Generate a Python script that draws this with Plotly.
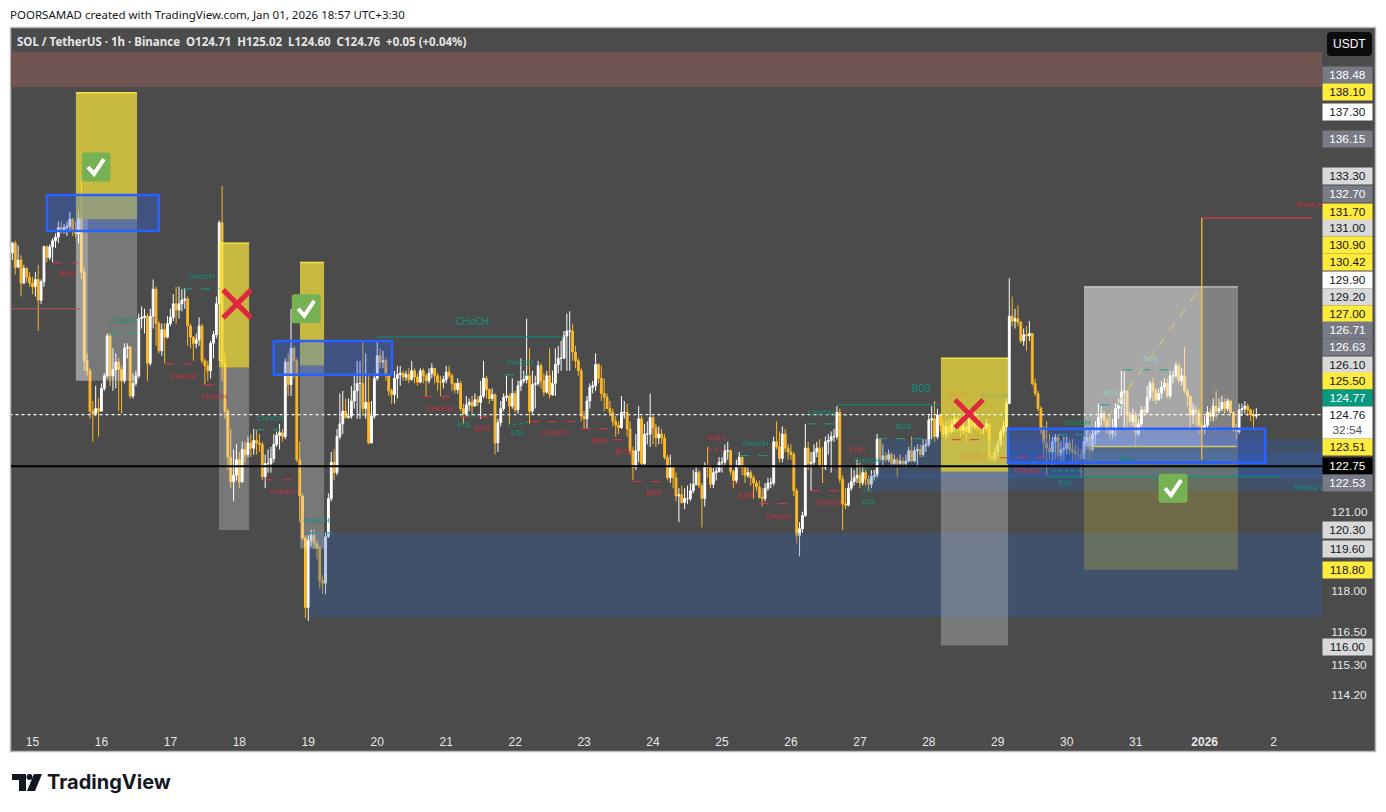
import math
import plotly.graph_objects as go

# hourly candles, one row per day (x = hours after Dec 15 00:00)
first_open = 131.3
closes = [
    131.7,130.7,131.0,130.05,130.65,130.3,130.05,
    129.9,130.2,129.35,130.1,131.55,131.1,131.55,131.8,131.95,132.35,132.2,132.35,132.4,132.7,132.2,132.1,132.75,130.5,126.9,126.5,124.9,124.8,125.0,124.9,
    125.8,126.3,127.9,126.3,126.55,126.85,126.55,126.1,127.4,127.45,125.5,126.0,126.3,128.6,128.65,128.7,126.8,128.7,129.8,128.4,127.3,128.15,127.85,128.4,
    128.65,129.2,128.95,129.2,129.35,129.4,128.3,127.85,127.6,127.75,128.3,126.9,126.7,126.5,127.6,127.95,129.2,132.55,126.8,124.9,123.1,122.15,122.4,123.0,
    122.15,123.4,123.2,123.65,123.45,123.75,123.65,123.6,122.35,122.85,122.85,123.05,123.6,123.95,124.05,123.9,126.85,125.95,127.4,126.9,123.0,121.6,120.0,117.4,
    119.9,120.1,119.8,119.6,118.4,118.3,120.05,121.5,122.9,122.5,123.9,124.4,124.9,124.65,124.7,125.3,125.7,126.0,126.0,125.0,125.25,123.65,124.7,126.2,
    127.1,126.85,126.9,126.3,125.7,125.55,126.2,126.35,126.4,126.25,126.35,126.15,126.5,126.25,126.05,126.5,126.3,126.1,126.4,126.6,126.3,126.05,126.05,126.15,
    126.45,126.3,126.0,125.75,126.0,125.0,124.8,125.15,125.25,125.1,125.35,125.25,125.5,126.2,125.75,125.4,125.55,123.65,124.45,125.0,125.45,125.5,125.1,125.6,
    124.95,125.9,126.1,126.15,126.3,124.9,125.95,126.0,126.7,126.1,125.65,126.3,125.55,126.0,126.75,127.0,127.0,127.9,128.1,128.1,127.25,126.9,126.5,124.7,
    124.6,125.3,125.85,125.9,126.75,126.2,125.6,125.45,125.0,124.85,124.5,124.35,124.25,124.85,124.85,124.2,123.35,122.7,123.35,124.6,122.85,124.0,124.0,124.65,
    124.25,123.85,124.0,123.85,123.1,122.3,122.7,122.3,121.6,121.65,121.35,121.5,121.5,121.8,122.05,122.5,122.0,121.5,122.75,122.7,122.05,122.5,122.55,122.9,
    122.9,123.35,123.35,122.55,122.2,122.75,123.1,122.7,122.4,122.5,122.3,122.1,121.95,121.55,121.5,121.9,122.1,122.1,123.7,123.5,123.05,124.0,123.45,123.3,
    123.2,121.8,120.1,120.35,120.85,123.45,122.85,122.9,123.3,123.45,122.75,122.7,123.7,123.75,123.9,123.9,124.85,122.25,121.3,121.25,121.9,122.15,122.3,122.4,
    122.1,122.5,122.25,122.05,122.35,122.4,123.8,123.0,123.15,123.0,123.2,122.85,123.0,122.85,122.95,122.85,122.95,123.35,122.95,123.35,123.4,123.2,123.55,123.6,
    124.55,124.6,123.9,124.75,124.35,124.0,124.3,124.1,124.4,124.6,124.35,124.15,124.3,124.1,124.6,124.3,124.6,124.25,124.2,124.25,124.4,123.1,123.05,123.3,
    123.6,124.1,124.3,125.2,128.7,128.5,128.6,128.45,127.7,127.95,127.9,128.0,126.0,125.6,125.0,124.15,123.65,123.45,123.3,123.7,123.85,123.15,123.4,123.45,
    123.65,123.4,123.3,123.2,123.2,123.05,123.7,123.85,123.4,124.0,124.1,124.65,124.8,124.55,124.15,124.0,124.2,125.0,125.15,125.65,125.7,124.8,124.5,124.75,
    124.0,124.4,124.95,124.85,125.45,126.0,125.7,125.35,125.6,125.85,126.0,125.5,126.3,126.3,126.7,126.1,126.3,125.7,125.5,124.75,124.95,124.85,124.35,124.15,
    124.35,124.85,124.7,125.1,124.9,125.0,125.25,125.0,125.3,124.85,124.15,124.1,124.95,125.0,125.1,124.95,124.75,124.71,124.76,
]
highs = [
    131.75,131.8,131.6,131.2,130.8,130.7,130.5,
    130.3,130.5,130.8,130.2,131.6,131.6,131.65,131.9,132.1,132.6,132.6,132.5,132.6,133.0,132.75,132.6,133.1,135.45,130.7,127.2,126.6,125.3,125.9,125.4,
    126.0,126.4,128.0,128.0,127.4,127.2,127.0,126.7,127.6,127.6,127.5,126.4,126.5,128.8,129.1,129.0,128.8,129.0,130.2,129.9,128.5,128.4,128.4,128.7,
    129.0,129.6,129.9,129.9,129.8,129.85,129.5,128.4,127.9,128.0,128.65,128.4,127.0,126.9,127.7,128.1,129.5,132.65,134.1,127.2,125.0,124.2,123.4,123.6,
    123.3,123.7,123.7,123.9,124.0,124.2,124.15,124.0,123.7,123.2,123.4,123.5,124.0,124.1,124.4,124.2,127.0,127.2,129.0,127.5,127.0,123.7,121.7,120.1,
    120.1,120.3,120.3,119.9,119.7,118.6,120.2,121.7,123.3,123.4,124.2,125.6,125.7,125.4,125.4,125.9,126.4,126.9,126.9,127.7,127.2,126.4,125.3,126.4,
    127.65,127.4,127.3,127.0,126.3,125.8,126.5,126.7,126.7,126.5,126.5,126.6,126.9,126.6,126.4,126.6,126.6,126.4,126.6,126.8,126.6,126.4,126.3,126.3,
    126.7,126.7,126.4,126.0,126.2,126.1,125.2,125.5,125.4,125.5,125.6,125.5,126.1,126.9,126.3,125.8,125.8,125.6,124.6,125.3,125.6,126.3,125.6,126.2,
    125.7,126.1,127.0,126.5,128.6,127.4,126.5,126.3,126.9,126.8,126.4,126.5,127.4,126.5,127.4,127.5,127.7,128.1,128.8,128.9,128.4,127.5,127.0,126.6,
    124.9,125.5,126.0,126.1,127.2,126.8,126.7,126.2,125.6,125.3,125.0,124.7,124.5,125.5,125.3,125.2,124.5,123.5,124.0,125.1,124.7,124.4,124.5,125.6,
    124.7,124.4,124.3,124.2,124.0,123.2,123.2,122.8,122.5,121.9,122.0,121.9,122.0,122.1,122.6,122.7,122.6,122.1,122.9,123.5,122.8,122.7,122.8,123.1,
    123.1,123.6,123.7,123.4,122.6,123.0,123.3,123.0,122.8,122.7,122.6,122.4,122.2,122.2,121.9,122.1,122.3,122.3,123.9,124.5,124.1,124.3,124.2,123.6,
    123.6,123.3,121.9,120.6,121.0,124.4,123.7,123.3,123.6,123.7,123.8,123.5,123.9,124.0,124.1,124.2,125.1,125.0,122.4,121.9,122.1,122.7,122.6,123.0,
    122.9,122.8,122.6,122.4,122.6,122.6,124.0,123.85,123.6,123.3,123.4,123.3,123.2,123.1,123.2,123.1,123.2,123.5,123.9,123.5,123.6,123.6,123.8,123.8,
    124.8,125.1,125.3,125.0,124.8,124.5,124.5,124.6,124.6,124.8,124.7,124.4,124.8,124.4,125.0,124.7,124.9,124.7,124.4,124.4,124.6,124.3,123.3,123.5,
    123.8,124.2,124.5,125.4,130.25,129.5,129.0,129.15,128.5,128.2,128.3,128.5,128.0,126.2,125.7,125.1,124.3,124.5,124.0,123.9,124.0,124.0,123.7,123.9,
    123.9,123.8,123.8,123.6,123.5,123.4,123.9,124.2,124.0,124.2,124.5,125.2,125.1,124.9,124.6,124.7,124.6,125.2,125.4,126.5,126.5,125.7,124.9,125.0,
    124.9,124.6,125.1,125.1,125.9,126.1,126.2,125.8,125.8,126.1,126.2,126.2,126.5,126.5,126.85,126.8,126.6,127.45,125.8,125.5,125.2,125.1,125.0,124.5,
    124.7,125.1,125.0,125.4,125.7,125.4,125.5,125.4,125.4,125.35,124.9,124.4,125.2,125.2,125.3,125.2,125.0,124.95,125.02,
]
lows = [
    131.0,130.4,130.7,129.5,130.0,130.1,129.9,
    129.6,129.5,128.1,129.2,129.9,130.9,131.0,130.9,131.5,131.7,132.1,132.1,132.0,132.2,132.0,131.95,131.7,130.2,126.5,126.3,124.6,123.7,124.7,123.9,
    124.9,125.7,126.2,125.9,125.7,125.8,124.9,124.8,126.0,127.0,125.4,125.4,125.9,126.2,128.2,128.0,126.1,126.7,128.2,127.5,127.2,127.1,126.8,127.8,
    128.3,128.5,128.4,128.6,128.9,129.0,127.5,127.4,126.9,127.4,127.5,126.8,125.95,126.1,126.2,127.0,127.8,126.9,126.1,124.6,122.6,121.9,121.4,122.2,
    121.9,122.1,122.9,123.1,123.1,123.2,123.2,123.3,122.2,121.9,122.5,122.5,122.9,123.5,123.4,123.7,123.8,125.5,125.5,126.2,122.9,120.6,119.9,117.0,
    116.9,119.7,119.6,119.2,118.1,117.9,117.9,120.0,121.4,122.2,122.4,123.8,124.0,124.6,124.6,124.6,125.0,124.6,124.6,124.7,124.6,123.6,123.7,124.6,
    126.1,126.6,126.6,126.1,125.5,125.2,125.2,125.4,125.9,126.1,126.1,126.0,126.1,126.0,125.9,126.0,126.0,125.5,126.0,126.2,126.0,125.7,125.5,125.8,
    126.0,126.2,125.7,125.6,125.6,124.9,124.4,124.7,124.9,124.8,125.1,125.1,124.6,125.4,125.4,125.2,125.3,123.2,123.3,124.3,124.9,125.3,124.4,125.0,
    124.85,124.8,125.7,126.0,126.0,124.4,124.8,125.0,125.9,125.8,125.5,125.6,125.4,125.5,125.5,126.4,126.5,127.0,126.5,126.5,126.9,126.6,126.3,124.5,
    124.2,124.2,125.0,125.6,125.7,126.0,125.3,124.9,125.0,124.7,124.3,123.9,124.0,124.2,124.6,123.9,123.2,122.2,122.6,122.9,122.8,122.8,123.6,123.5,
    123.6,123.5,123.6,123.6,123.0,122.2,122.1,121.9,121.4,120.6,121.3,121.1,121.3,121.4,121.7,122.0,121.9,120.4,121.2,122.3,121.9,121.9,122.2,122.5,
    122.5,122.8,123.0,122.4,121.9,122.1,122.7,122.4,122.1,122.3,122.0,121.5,121.8,121.5,121.2,121.4,121.8,121.9,122.0,123.4,122.9,122.9,123.3,123.0,
    123.0,121.6,119.8,119.3,120.2,120.8,122.6,121.8,122.8,123.1,122.7,122.1,122.6,123.2,122.5,123.7,123.8,122.1,120.3,121.1,121.2,121.8,122.0,122.1,
    121.9,122.0,122.0,121.8,121.9,122.2,122.3,122.9,122.8,122.9,122.9,122.7,122.8,122.3,122.8,122.7,122.7,122.9,122.9,122.9,122.7,123.1,123.1,123.3,
    123.5,123.8,123.7,123.8,124.1,123.9,123.8,123.9,124.0,124.1,124.1,123.9,124.0,123.6,124.0,124.0,124.2,124.1,124.0,124.0,124.1,123.0,122.9,122.9,
    123.1,123.5,123.9,124.1,125.2,128.3,128.2,128.3,127.6,127.5,127.3,127.7,125.9,125.5,124.9,124.0,123.1,122.4,123.0,122.8,123.0,123.0,122.9,122.9,
    123.2,123.2,122.9,122.9,122.9,122.3,123.0,123.4,123.0,123.3,123.6,124.0,124.3,124.3,124.0,123.8,123.8,123.9,124.6,124.8,124.2,124.2,124.3,124.3,
    123.5,123.9,124.3,124.7,124.8,125.3,125.3,125.2,125.3,125.4,125.7,125.4,125.4,126.0,126.2,126.0,125.9,125.6,125.1,124.2,124.4,124.3,124.0,123.9,
    124.0,124.2,124.5,124.5,124.6,124.8,124.9,124.8,124.9,124.8,124.1,123.8,124.0,124.7,124.8,124.7,124.5,124.2,124.60,
]

day_hours = [0,24,48,72,96,120,144,168,192,216,240,264,288,312,336,360,384,408,432]
day_labels = ["15","16","17","18","19","20","21","22","23","24","25","26","27","28","29","30","31","<b>2026</b>","2"]
axis_prices = [121,118,116.5,115.3,114.2]

# drawings: hour from, hour to, price low, price high
target_boxes = [(15.1,36.4,132.7,138.1),(64.9,75.4,126.63,131.7),(93.1,101.5,126.71,130.9),(316.2,339.6,122.53,127.0)]
risk_boxes = [(15.1,36.4,126.1,132.7),(15.1,19.3,126.1,132.7),(64.9,75.4,120.3,126.63),(93.1,101.5,119.6,126.71),(316.2,339.6,116.0,122.53)]
zone_boxes = [(5.05,44,132.2,133.72),(84,125.1,126.34,127.7),(339.6,429.1,122.88,124.21)]
demand_bands = [(96.2,449,117.05,120.2),(294.3,449,122.3,123.8),(290.1,449,121.8,122.45),(339.6,449,122.3,123.27)]
supply_band = (-8,449,138.35,139.9)
long_reward = [(366,419.6,123.51,129.9),(366,407.3,123.51,129.9)]
long_risk = (366,419.6,118.8,123.51)

red_dashes = [(7.1,15.8,130.88),(46.1,59.3,126.78),(60,65.6,125.94),(80.9,92.8,122.22),(135.9,147.8,125.47),(149.1,158.5,124.68),
              (173.2,192.3,124.49),(190.9,203.8,124.21),(202,207.9,123.78),(209,221.9,122.15),(243.1,249.7,122.07),(253.2,265.4,121.31),
              (271,281,121.8),(336.8,354.8,123.08),(320,331.5,123.78)]
teal_dashes = [(52.4,65.3,129.81),(27,36.4,128.03),(77.4,86.2,124.17),(95.9,104.2,120.2),(164.5,173.2,126.34),(246.3,257.8,123.16),
               (269.6,280,124.4),(294.3,314.1,123.82),(288,292.5,122.65),(356.9,366.3,123.97),(371.6,379.2,125.15),(379.6,396.6,126.54)]
teal_dots = [(149.1,155,124.72,124.72),(165.2,173.2,124.32,124.49),(289,292.2,121.8,121.8),(355.2,365.3,122.57,122.57)]
teal_lines = [(119.6,185,127.86),(280,315.8,125.15),(353.1,434.2,122.34)]

red_labels = [("BOS",12,130.43),("CHoCH",52.7,126.26),("CHoCH",63.5,125.47),("CHoCH",87.2,121.77),("CHoCH",141.8,124.99),("BOS",156.2,124.2),
              ("CHoCH",181.9,124.05),("BOS",197.2,123.74),("BOS",205.2,123.31),("BOS",216,121.73),("EQH",237.9,123.86),("BOS",248.3,121.61),
              ("CHoCH",259.8,120.81),("CHoCH",276.9,121.34),("EQH",287,123.38),("CHoCH",346.2,122.57),("Weak H",444.5,133.3)]
teal_labels = [("CHoCH",59,130.31),("CHoCH",31.8,128.51),("CHoCH",83,124.6),("CHoCH",98.7,120.66),("EQL",150.6,124.37),("CHoCH",170,126.82),
               ("EQL",169.3,124.05),("CHoCH",251.8,123.62),("CHoCH",274.8,124.84),("BOS",303.3,124.29),("CHoCH",290.8,122.98),("EQL",291.2,121.38),
               ("CHoCH",363.9,124.44),("EQL",360,122.11),("EQL",381.3,123.04),("Strong L",444.3,121.92)]
pale_labels = [("BOS",375.4,125.63),("BOS",389.3,127.0)]
large_labels = [("CHoCH",153,128.47),("BOS",309.3,125.79)]
orange_labels = [("EQH",322.1,125.55),("CHoCH",327.4,123.12)]
olive_labels = [("CHoCH",335,125.5)]

check_marks = [(22.1,134.9),(95.3,129.0),(397,121.9)]
cross_marks = [(71.2,129.2),(326,124.8)]

tag_texts = ["138.48","138.10","137.30","136.15","133.30","132.70","131.70","131.00","130.90","130.42","129.90","129.20","127.00",
             "126.71","126.63","126.10","125.50","124.77","123.51","122.75","122.53","120.30","119.60","118.80","116.00"]
tag_kinds = ["g","y","w","g","l","g","y","l","y","y","w","l","y","g","g","l","y","t","y","k","g","l","l","y","l"]
tag_rows = [75,92,112,139,176,194,212,228,245,262,280,297,314,330,347,365,381,398,447,466,483,530,549,570,647]

BG = "#4b4b4b"
UP = "#ffffff"
DOWN = "#fbb829"
RED = "#c22f41"
TEAL = "#0d8f7a"
WIDTH, HEIGHT = 1386, 812
LEFT, RIGHT, TOP, BOTTOM = 11, 1322, 28, 751


def paper_x(px):
    return (px - LEFT) / (RIGHT - LEFT)


def paper_y(py):
    return 1 - (py - TOP) / (BOTTOM - TOP)


def rect(box, fill, line=None, width=0):
    return dict(type="rect", x0=box[0], x1=box[1], y0=box[2], y1=box[3], xref="x", yref="y",
                fillcolor=fill, line=dict(color=line or "rgba(0,0,0,0)", width=width), layer="above")


def seg(x0, x1, y0, y1, color, width=1, dash="solid"):
    return dict(type="line", x0=x0, x1=x1, y0=y0, y1=y1, xref="x", yref="y",
                line=dict(color=color, width=width, dash=dash), layer="above")


def round_path(x0, y0, x1, y1, r):
    # pixel offsets, y counts upward from the anchor
    return (f"M {x0+r} {y0} L {x1-r} {y0} Q {x1} {y0} {x1} {y0+r} L {x1} {y1-r} Q {x1} {y1} {x1-r} {y1} "
            f"L {x0+r} {y1} Q {x0} {y1} {x0} {y1-r} L {x0} {y0+r} Q {x0} {y0} {x0+r} {y0} Z")


def icon(hour, price, path, fill=None, color=None, width=0):
    return dict(type="path", xref="x", yref="y", xsizemode="pixel", ysizemode="pixel",
                xanchor=hour, yanchor=price, path=path, fillcolor=fill or "rgba(0,0,0,0)",
                line=dict(color=color or "rgba(0,0,0,0)", width=width), layer="above")


def frame_path(path, fill):
    # pixel offsets from the top left corner of the plot area
    return dict(type="path", xref="paper", yref="paper", xsizemode="pixel", ysizemode="pixel",
                xanchor=0, yanchor=1, path=path, fillcolor=fill, line=dict(width=0), layer="above")


hours = [i - 7 for i in range(len(closes))]
opens = [first_open] + closes[:-1]

fig = go.Figure(go.Candlestick(
    x=hours, open=opens, high=highs, low=lows, close=closes,
    increasing=dict(line=dict(color=UP, width=1), fillcolor=UP),
    decreasing=dict(line=dict(color=DOWN, width=1), fillcolor=DOWN),
    whiskerwidth=0, showlegend=False,
))

shapes = []
# price scale background and chart frame
shapes.append(dict(type="rect", xref="paper", yref="paper", x0=1, x1=paper_x(1375), y0=0, y1=1,
                   fillcolor=BG, line=dict(width=0), layer="below"))
shapes.append(dict(type="rect", xref="paper", yref="paper", x0=paper_x(10.5), x1=paper_x(1375.5),
                   y0=paper_y(751.5), y1=paper_y(27.5), line=dict(color="#b9b9b9", width=1.5), layer="above"))

shapes.append(rect(supply_band, "#705553"))
for b in demand_bands:
    shapes.append(rect(b, "rgba(46,95,180,0.3)"))
for b in risk_boxes:
    shapes.append(rect(b, "rgba(255,255,255,0.25)"))
for b in long_reward:
    shapes.append(rect(b, "rgba(255,255,255,0.3)"))
shapes.append(seg(366, 419.6, 129.9, 129.9, "rgba(255,255,255,0.5)", 1.5))
shapes.append(rect(long_risk, "rgba(255,235,59,0.2)"))
for b in target_boxes:
    shapes.append(rect(b, "rgba(255,235,59,0.69)"))
    shapes.append(seg(b[0], b[1], b[3], b[3], "rgba(255,235,59,0.9)", 1.5))
for b in zone_boxes:
    shapes.append(rect(b, "rgba(41,98,255,0.3)", "#2962ff", 2.5))

for x0, x1, p in red_dashes:
    shapes.append(seg(x0, x1, p, p, "#e0334a", 1, "dash"))
for x0, x1, p in teal_dashes:
    shapes.append(seg(x0, x1, p, p, "#11a58c", 1, "dash"))
for x0, x1, p0, p1 in teal_dots:
    shapes.append(seg(x0, x1, p0, p1, TEAL, 1.5, "dot"))
shapes.append(seg(235.5, 241.7, 123.43, 123.32, RED, 1.5, "dot"))
for x0, x1, p in teal_lines:
    shapes.append(seg(x0, x1, p, p, TEAL, 1))
shapes.append(seg(-8, 16.5, 129.0, 129.0, "#b8505a", 1))
shapes.append(seg(369.1, 419.2, 123.51, 123.51, "#d8c75a", 1.5))
shapes.append(seg(407, 445.4, 132.75, 132.75, "#f23645", 1))
shapes.append(seg(407, 407, 123.0, 132.75, "#f9bd3a", 1.2))
shapes.append(seg(374, 406.4, 124.6, 129.85, "#d6c76c", 1.2, "dash"))
shapes.append(seg(-8, 449, 122.75, 122.75, "#000000", 2))
shapes.append(seg(-8, 449, 124.76, 124.76, "#ffffff", 1.2, "dot"))

for h, p in check_marks:
    shapes.append(icon(h, p, round_path(-14.5, -14.5, 14.5, 14.5, 3), fill="#76b254"))
    shapes.append(icon(h, p, "M -8 0 L -2 -7 L 8 8", color="#ffffff", width=4))
for h, p in cross_marks:
    shapes.append(icon(h, p, "M -14 -14 L 14 14 M -14 14 L 14 -14", color="#e0263f", width=5))

# USDT button and the TradingView mark under the chart
shapes.append(dict(type="path", xref="paper", yref="paper", xsizemode="pixel", ysizemode="pixel", xanchor=1, yanchor=1,
                   path=round_path(5, -28, 50, -4, 4), fillcolor="#0c0c0c", line=dict(width=0), layer="above"))
shapes.append(frame_path("M 1 -746 L 15 -746 L 15 -763 L 8 -763 L 8 -752 L 1 -752 Z", "#131722"))
shapes.append(frame_path("M 31 -746 L 24 -763 L 16 -763 L 23 -746 Z", "#131722"))
shapes.append(dict(type="circle", xref="paper", yref="paper", xsizemode="pixel", ysizemode="pixel", xanchor=0, yanchor=1,
                   x0=15.5, x1=21.5, y0=-752, y1=-746, fillcolor="#131722", line=dict(width=0), layer="above"))

annotations = []


def mark_text(text, hour, price, color, size=7):
    annotations.append(dict(text=text, x=hour, y=math.log10(price), xref="x", yref="y", showarrow=False,
                            font=dict(family="Roboto", size=size, color=color), xanchor="center", yanchor="middle"))


for group, color, size in [(red_labels, RED, 8), (teal_labels, TEAL, 8), (pale_labels, "#8fd0c4", 8),
                           (large_labels, TEAL, 10), (orange_labels, "#e09a35", 8), (olive_labels, "#93b35c", 8)]:
    for text, h, p in group:
        mark_text(text, h, p, color, size)

# header, legend, logo
annotations.append(dict(text="POORSAMAD created with TradingView.com, Jan 01, 2026 18:57 UTC+3:30", xref="paper", yref="paper",
                        x=paper_x(8), y=paper_y(14), xanchor="left", yanchor="middle", showarrow=False,
                        font=dict(family="Noto Sans", size=11.5, color="#131722")))
annotations.append(dict(text="<b>SOL / TetherUS · 1h · Binance  O124.71  H125.02  L124.60  C124.76  +0.05 (+0.04%)</b>".replace("  ", "&nbsp;&nbsp;"),
                        xref="paper", yref="paper", x=paper_x(15), y=paper_y(41), xanchor="left", yanchor="middle", showarrow=False,
                        font=dict(family="Noto Sans", size=11.5, color="#e6e6e6")))
annotations.append(dict(text="<b>TradingView</b>", xref="paper", yref="paper", x=paper_x(45), y=paper_y(782),
                        xanchor="left", yanchor="middle", showarrow=False, font=dict(family="Inter", size=20, color="#131722")))

tag_styles = {"g": ("#787b86", "#ffffff"), "y": ("#ffeb3b", "#131722"), "w": ("#ffffff", "#131722"),
              "l": ("#d9d9d9", "#131722"), "t": ("#089981", "#ffffff"), "k": ("#000000", "#ffffff")}


def pill(text, row, fill, color, height=16):
    annotations.append(dict(text=text, xref="paper", yref="paper", x=paper_x(1347.5), y=paper_y(row),
                            xanchor="center", yanchor="middle", showarrow=False, width=49, height=height,
                            bgcolor=fill, borderpad=0, align="center", valign="middle",
                            font=dict(family="Liberation Sans", size=11.8, color=color)))


for text, kind, row in zip(tag_texts, tag_kinds, tag_rows):
    pill(text, row, *tag_styles[kind])
pill('124.76<br><span style="color:#555555">32:54</span>', 422.5, "#ffffff", "#131722", 31)

annotations.append(dict(text="USDT", xref="paper", yref="paper", x=paper_x(1349.5), y=paper_y(44), showarrow=False,
                        xanchor="center", yanchor="middle", font=dict(family="Liberation Sans", size=12, color="#ffffff")))

fig.update_layout(
    width=WIDTH, height=HEIGHT,
    margin=dict(l=LEFT, r=WIDTH - RIGHT, t=TOP, b=HEIGHT - BOTTOM),
    paper_bgcolor="#ffffff", plot_bgcolor=BG,
    showlegend=False, shapes=shapes, annotations=annotations, boxgap=0.1,
    xaxis=dict(range=[-7.48, 448.85], rangeslider=dict(visible=False), showgrid=False, zeroline=False,
               tickmode="array", tickvals=day_hours, ticktext=day_labels, ticks="", showline=False,
               ticklabelposition="inside", tickfont=dict(family="Liberation Sans", size=12, color="#e8e8e8")),
    yaxis=dict(type="log", range=[math.log10(112.2), math.log10(140.95)], side="right", showgrid=False, zeroline=False,
               tickmode="array", tickvals=axis_prices, ticktext=[f"{p:.2f}" for p in axis_prices],
               ticks="outside", ticklen=6, tickcolor="rgba(0,0,0,0)", showline=False,
               tickfont=dict(family="Liberation Sans", size=11.8, color="#e8e8e8")),
)

fig.write_html("out.html", config={"displayModeBar": False},
               post_script="document.body.style.margin='0';document.body.style.overflow='hidden';")
